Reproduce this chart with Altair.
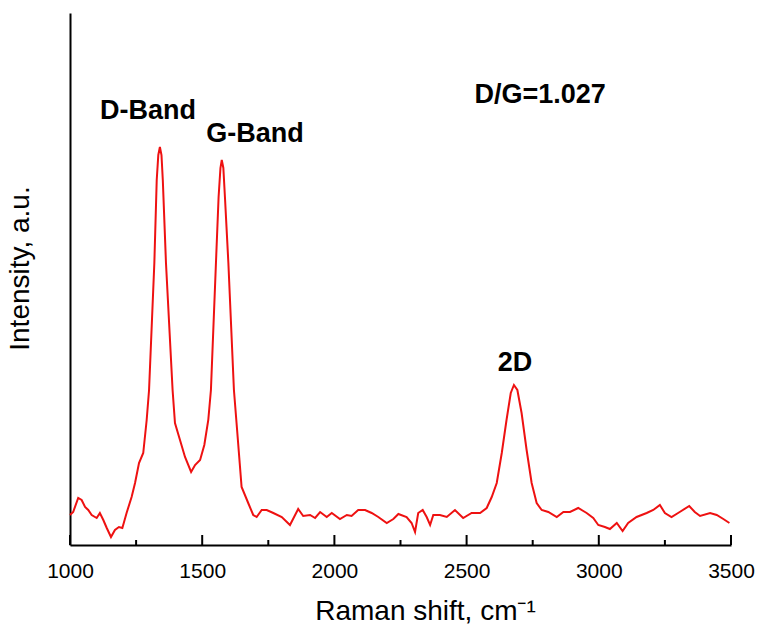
import altair as alt
import pandas as pd

# Raman spectrum (x in cm^-1, intensity in a.u.)
shift = [1000, 1012, 1031, 1044, 1057, 1069, 1082, 1101, 1113, 1126, 1139, 1155, 1170, 1185, 1198,
         1214, 1233, 1246, 1261, 1277, 1290, 1299, 1319, 1328, 1334, 1340, 1346, 1351, 1363, 1388,
         1397, 1416, 1435, 1458, 1473, 1492, 1508, 1523, 1533, 1552, 1562, 1569, 1574, 1580, 1586,
         1599, 1620, 1632, 1649, 1674, 1693, 1706, 1725, 1744, 1769, 1801, 1832, 1863, 1882, 1908,
         1927, 1946, 1971, 1990, 2021, 2047, 2065, 2090, 2116, 2141, 2166, 2198, 2223, 2242, 2273,
         2292, 2305, 2317, 2334, 2349, 2362, 2374, 2399, 2425, 2456, 2487, 2519, 2551, 2576, 2595,
         2614, 2633, 2651, 2667, 2679, 2692, 2708, 2727, 2746, 2765, 2784, 2809, 2841, 2866, 2891,
         2922, 2954, 2979, 2998, 3023, 3042, 3068, 3090, 3111, 3143, 3181, 3206, 3231, 3250, 3275,
         3306, 3342, 3363, 3383, 3421, 3446, 3471, 3494]
intensity = [30, 33, 47, 45, 38, 35, 30, 27, 32, 25, 17, 8, 15, 18, 17,
             32, 48, 62, 82, 92, 125, 155, 282, 365, 390, 398, 390, 365, 282, 155,
             122, 105, 88, 73, 80, 85, 100, 125, 155, 282, 348, 377, 385, 377, 348,
             282, 155, 115, 58, 42, 30, 28, 35, 35, 32, 28, 20, 36, 29, 30,
             27, 33, 28, 32, 26, 30, 29, 35, 35, 32, 28, 22, 26, 31, 28,
             22, 13, 32, 35, 28, 20, 30, 30, 28, 35, 27, 32, 32, 37, 48,
             62, 92, 125, 152, 160, 155, 132, 95, 62, 42, 35, 33, 28, 33, 33,
             37, 32, 27, 20, 18, 16, 22, 14, 22, 28, 32, 35, 40, 32, 28,
             33, 39, 33, 29, 32, 30, 26, 22]

major_ticks = [1000, 1500, 2000, 2500, 3000, 3500]
minor_ticks = [1250, 1750, 2250, 2750, 3250]

labels = ["D-Band", "G-Band", "D/G=1.027", "2D"]
label_x = [1295, 1700, 2778, 2683]
label_y = [434, 411, 450, 182]

spec = pd.DataFrame({"shift": shift, "intensity": intensity})
ann = pd.DataFrame({"text": labels, "x": label_x, "y": label_y})
majors = pd.DataFrame({"pos": major_ticks})
minors = pd.DataFrame({"pos": minor_ticks})

FONT = "Liberation Sans"
xscale = alt.Scale(domain=[1000, 3500], nice=False, zero=False)
yscale = alt.Scale(domain=[0, 532], nice=False, zero=False)

line = alt.Chart(spec).mark_line(color="#ee1111", strokeWidth=2).encode(
    x=alt.X("shift:Q", scale=xscale,
            axis=alt.Axis(title="Raman shift, cm⁻¹", values=major_ticks, format="d",
                          ticks=False, grid=False, domainColor="black", domainWidth=2,
                          labelFont=FONT, labelFontSize=21, labelColor="black",
                          labelPadding=15, labelFlush=False,
                          titleFont=FONT, titleFontSize=28, titleFontWeight="normal",
                          titleColor="black", titlePadding=16, titleX=355, titleAlign="center")),
    y=alt.Y("intensity:Q", scale=yscale,
            axis=alt.Axis(title="Intensity, a.u.", labels=False, ticks=False, grid=False,
                          domainColor="black", domainWidth=2,
                          titleFont=FONT, titleFontSize=28, titleFontWeight="normal",
                          titleColor="black", titlePadding=36, titleY=255)),
)

# inward tick marks on the x axis (major and minor)
major_marks = alt.Chart(majors).mark_rule(color="black", strokeWidth=2).encode(
    x=alt.X("pos:Q", scale=xscale),
    y=alt.Y(datum=0, scale=yscale),
    y2=alt.Y2(datum=10),
)
minor_marks = alt.Chart(minors).mark_rule(color="black", strokeWidth=2).encode(
    x=alt.X("pos:Q", scale=xscale),
    y=alt.Y(datum=0, scale=yscale),
    y2=alt.Y2(datum=5),
)

text = alt.Chart(ann).mark_text(font=FONT, fontSize=27, fontWeight="bold", color="black",
                                baseline="middle", align="center").encode(
    x=alt.X("x:Q", scale=xscale), y=alt.Y("y:Q", scale=yscale), text="text:N"
)

chart = alt.layer(line, major_marks, minor_marks, text).properties(
    width=661, height=532,
    autosize=alt.AutoSizeParams(type="none"),
    padding={"left": 70, "top": 13, "right": 26, "bottom": 81},
    background="white",
).configure_view(stroke=None)

chart.save("out.html", embed_options={"renderer": "svg", "actions": False})
